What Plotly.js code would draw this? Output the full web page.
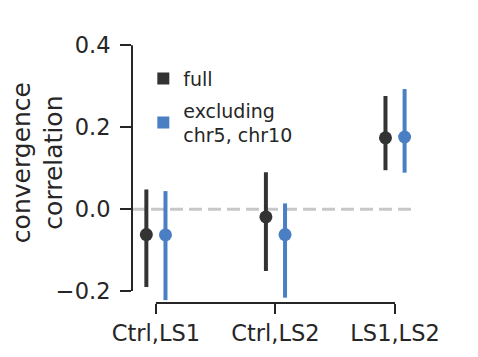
<!DOCTYPE html>
<html>
<head>
<meta charset="utf-8">
<script src="https://cdn.plot.ly/plotly-3.0.1.min.js"></script>
<style>html,body{margin:0;padding:0;background:#fff;}#chart{width:478px;height:357px;}</style>
</head>
<body>
<div id="chart"></div>
<script>
const categories = ["Ctrl,LS1", "Ctrl,LS2", "LS1,LS2"];
const seriesNames = ["full", "excluding<br>chr5, chr10"];
const fullMean = [-0.062, -0.019, 0.174];
const fullLow = [-0.190, -0.151, 0.095];
const fullHigh = [0.048, 0.090, 0.276];
const exclMean = [-0.063, -0.062, 0.176];
const exclLow = [-0.222, -0.216, 0.089];
const exclHigh = [0.044, 0.014, 0.293];
const yTickVals = [-0.2, 0.0, 0.2, 0.4];
const yTickText = ["\u22120.2", "0.0", "0.2", "0.4"];

const colors = ["#333333", "#4a7fc4"];
const FONT = "DejaVu Sans";

function pointTrace(mean, low, high, color, idx) {
  return {
    type: "scatter", mode: "markers", x: categories, y: mean,
    offsetgroup: "g" + idx,
    marker: {color: color, size: 13},
    error_y: {type: "data", symmetric: false,
      array: high.map((h, i) => h - mean[i]),
      arrayminus: low.map((l, i) => mean[i] - l),
      color: color, thickness: 4, width: 0},
    showlegend: false, hoverinfo: "skip"
  };
}
function legendTrace(name, color, idx) {
  return {type: "scatter", mode: "markers", x: [null], y: [null], name: name,
    legendgroup: "lg" + idx,
    marker: {color: color, size: 12, symbol: "square"}, showlegend: true};
}

const data = [
  pointTrace(fullMean, fullLow, fullHigh, colors[0], 0),
  pointTrace(exclMean, exclLow, exclHigh, colors[1], 1),
  legendTrace(seriesNames[0], colors[0], 0),
  legendTrace(seriesNames[1], colors[1], 1)
];

const layout = {
  width: 478, height: 357,
  margin: {l: 132, r: 63, t: 37, b: 54},
  paper_bgcolor: "#fff", plot_bgcolor: "#fff",
  font: {family: FONT, color: "#262626", size: 22.5},
  scattermode: "group", scattergap: 0.68,
  xaxis: {type: "category", range: [-0.2, 2.167], showgrid: false, zeroline: false,
    showline: false, ticks: "outside", ticklen: 10, tickwidth: 2, tickcolor: "#262626",
    tickfont: {size: 22.5, family: FONT, color: "#262626"}},
  yaxis: {range: [-0.229, 0.42], showgrid: false, zeroline: false, showline: false,
    ticks: "outside", ticklen: 11, tickwidth: 2, tickcolor: "#262626",
    ticklabelstandoff: 5,
    tickvals: yTickVals, ticktext: yTickText,
    tickfont: {size: 22.5, family: FONT, color: "#262626"}},
  shapes: [
    {type: "line", xref: "paper", x0: 0, x1: 1, yref: "y", y0: 0, y1: 0, layer: "below",
      line: {color: "#c8c8c8", width: 3, dash: "13px,6px"}},
    {type: "line", xref: "paper", x0: 0, x1: 0, yref: "y", y0: yTickVals[0], y1: yTickVals[3],
      line: {color: "#262626", width: 2}},
    {type: "line", xref: "x", x0: categories[0], x1: categories[2], yref: "paper", y0: 0, y1: 0,
      line: {color: "#262626", width: 2}}
  ],
  annotations: [
    {text: "convergence<br>correlation", textangle: -90, xref: "paper", yref: "paper",
      x: -0.332, y: 0.526, xanchor: "center", yanchor: "middle", showarrow: false,
      font: {size: 25, family: FONT, color: "#262626"}}
  ],
  legend: {x: 0.040, y: 0.915, xanchor: "left", yanchor: "top", bgcolor: "rgba(0,0,0,0)",
    tracegroupgap: 4,
    font: {size: 19, family: FONT, color: "#262626"}, itemwidth: 30}
};

Plotly.newPlot("chart", data, layout, {displayModeBar: false, staticPlot: true});
</script>
</body>
</html>
